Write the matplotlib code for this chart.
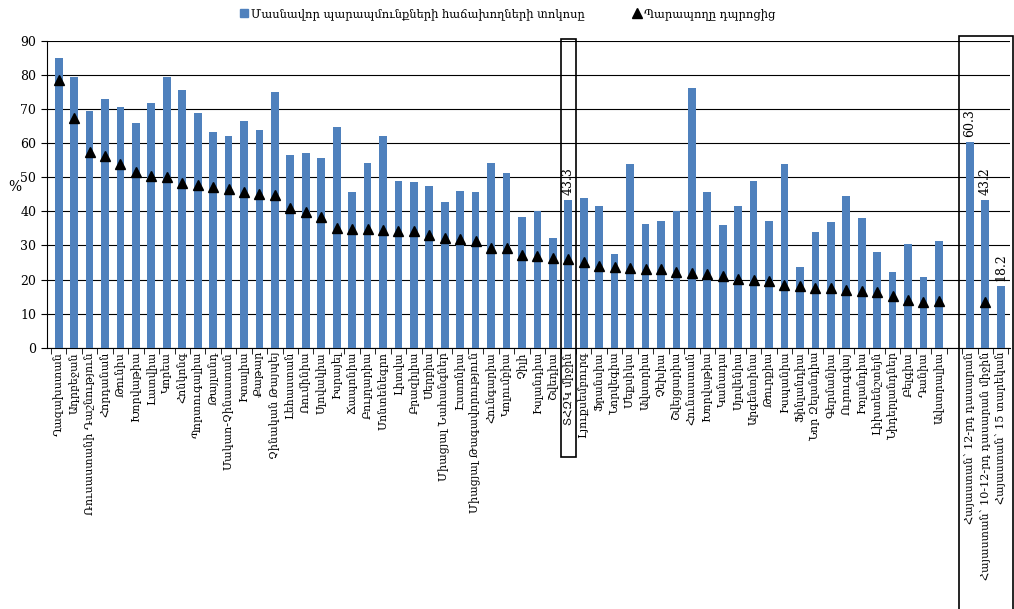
import numpy as np
import matplotlib
matplotlib.use("Agg")
from matplotlib import pyplot as plt
from matplotlib.patches import Rectangle
from matplotlib.lines import Line2D

plt.rcParams["font.family"] = ["DejaVu Serif", "DejaVu Sans"]

countries = [
    "Ղազախստան", "Ադրբեջան", "Ռուսաստանի Դաշնություն", "Հորդանան", "Թունիս",
    "Խորվաթիա", "Լատվիա", "Կորեա", "Հոնկոնգ", "Պորտուգալիա",
    "Թայլանդ", "Մակաո-Չինաստան", "Իտալիա", "Քաթար", "Չինական Թայպեյ",
    "Լեհաստան", "Ռումինիա", "Սլովակիա", "Իսրայել", "Ճապոնիա",
    "Բուլղարիա", "Մոնտենեգրո", "Լիտվա", "Բրազիլիա", "Սերբիա",
    "Միացյալ Նահանգներ", "Էստոնիա", "Միացյալ Թագավորություն", "Հունգարիա", "Կոլումբիա",
    "Չիլի", "Իսլանդիա", "Շվեդիա", "ՏՀԶԿ միջին", "Լյուքսեմբուրգ",
    "Ֆրանսիա", "Նորվեգիա", "Մեքսիկա", "Ավստրիա", "Չեխիա",
    "Շվեյցարիա", "Հունաստան", "Խորվաթիա", "Կանադա", "Սլովենիա",
    "Արգենտինա", "Թուրքիա", "Իսպանիա", "Ֆինլանդիա", "Նոր Զելանդիա",
    "Գերմանիա", "Ուրուգվայ", "Իռլանդիա", "Լիխտենշտեյն", "Նիդերլանդներ",
    "Բելգիա", "Դանիա", "Ավստրալիա",
]
tutoring = [
    85.0, 79.5, 69.3, 72.8, 70.5, 65.8, 71.7, 79.3, 75.5, 68.8,
    63.3, 62.2, 66.6, 63.7, 74.9, 56.5, 57.0, 55.7, 64.6, 45.8,
    54.3, 62.2, 48.8, 48.5, 47.5, 42.7, 46.0, 45.6, 54.3, 51.1,
    38.2, 40.1, 32.1, 43.3, 43.8, 41.7, 27.4, 54.0, 36.4, 37.3,
    40.0, 76.3, 45.6, 35.9, 41.7, 48.8, 37.1, 54.0, 23.6, 33.8,
    36.9, 44.6, 38.1, 28.0, 22.3, 30.5, 20.6, 31.2,
]
from_school = [
    78.5, 67.5, 57.5, 56.3, 53.9, 51.4, 50.4, 50.1, 48.4, 47.8,
    47.2, 46.5, 45.6, 45.2, 44.9, 41.0, 39.9, 38.2, 35.0, 34.8,
    34.8, 34.6, 34.3, 34.1, 33.0, 32.1, 31.8, 31.3, 29.2, 29.2,
    27.1, 26.8, 26.3, 26.1, 25.2, 23.9, 23.7, 23.3, 23.2, 23.0,
    22.2, 21.8, 21.7, 21.1, 20.1, 19.9, 19.5, 18.3, 18.1, 17.5,
    17.4, 16.8, 16.7, 16.4, 15.3, 13.9, 13.5, 13.8,
]

armenia = ["Հայաստան՝ 12-րդ դասարան", "Հայաստան՝ 10-12-րդ դասարան միջին", "Հայաստան՝ 15 տարեկան"]
armenia_tutoring = [60.3, 43.2, 18.2]
armenia_from_school = [np.nan, 13.5, np.nan]

blue = "#4F81BD"

x_main = np.arange(len(countries))
x_arm = np.arange(len(armenia)) + len(countries) + 1
x_all = np.concatenate([x_main, x_arm])
labels = countries + armenia

fig = plt.figure(figsize=(10.14, 6.09), dpi=100)
ax = fig.add_axes([0.046, 0.429, 0.95, 0.504])

ax.bar(x_main, tutoring, width=0.5, color=blue, zorder=3)
ax.bar(x_arm, armenia_tutoring, width=0.5, color=blue, zorder=3)
ax.plot(x_main, from_school, linestyle="none", marker="^", color="black", markersize=7, zorder=4)
ax.plot(x_arm, armenia_from_school, linestyle="none", marker="^", color="black", markersize=7, zorder=4)

ax.set_ylim(0, 90)
ax.set_yticks(range(0, 91, 10))
ax.set_xlim(-0.78, x_arm[-1] + 0.6)
ax.grid(True, axis="y", color="black", linewidth=0.8, zorder=0)
for s in ["top", "right"]:
    ax.spines[s].set_visible(False)
ax.tick_params(axis="y", labelsize=9, length=4)
ax.set_ylabel("%", rotation=0, fontsize=10, labelpad=4)

ax.set_xticks(x_all)
ax.set_xticklabels(labels, rotation=90, fontsize=8)
ax.tick_params(axis="x", which="major", length=0, pad=3)
ax.set_xticks(np.arange(-0.5, x_arm[-1] + 1, 1), minor=True)
ax.tick_params(axis="x", which="minor", length=4)

# value labels
oecd = countries.index("ՏՀԶԿ միջին")
ax.text(oecd, tutoring[oecd] + 1.5, f"{tutoring[oecd]:.1f}", rotation=90,
        ha="center", va="bottom", fontsize=9)
for xv, v in zip(x_arm, armenia_tutoring):
    ax.text(xv, v + 1.5, f"{v:.1f}", rotation=90, ha="center", va="bottom", fontsize=9)

# frames around OECD average and Armenia
tr = ax.get_xaxis_transform()
ax.add_patch(Rectangle((oecd - 0.5, -0.355), 1.0, 1.36, transform=tr, fill=False,
                       edgecolor="black", linewidth=1.2, clip_on=False, zorder=5))
ax.add_patch(Rectangle((x_arm[0] - 0.72, -0.9), 3.5, 1.917, transform=tr, fill=False,
                       edgecolor="black", linewidth=1.2, clip_on=False, zorder=5))

handles = [
    Line2D([], [], linestyle="none", marker="s", color=blue, markersize=6),
    Line2D([], [], linestyle="none", marker="^", color="black", markersize=7),
]
fig.legend(handles, ["Մասնավոր պարապմունքների հաճախողների տոկոսը", "Պարապողը դպրոցից"],
           loc="upper center", bbox_to_anchor=(0.5, 1.005), ncol=2, frameon=False,
           fontsize=8.3, handletextpad=0.1, columnspacing=4, handlelength=1)

fig.savefig("out.png", dpi=100)
